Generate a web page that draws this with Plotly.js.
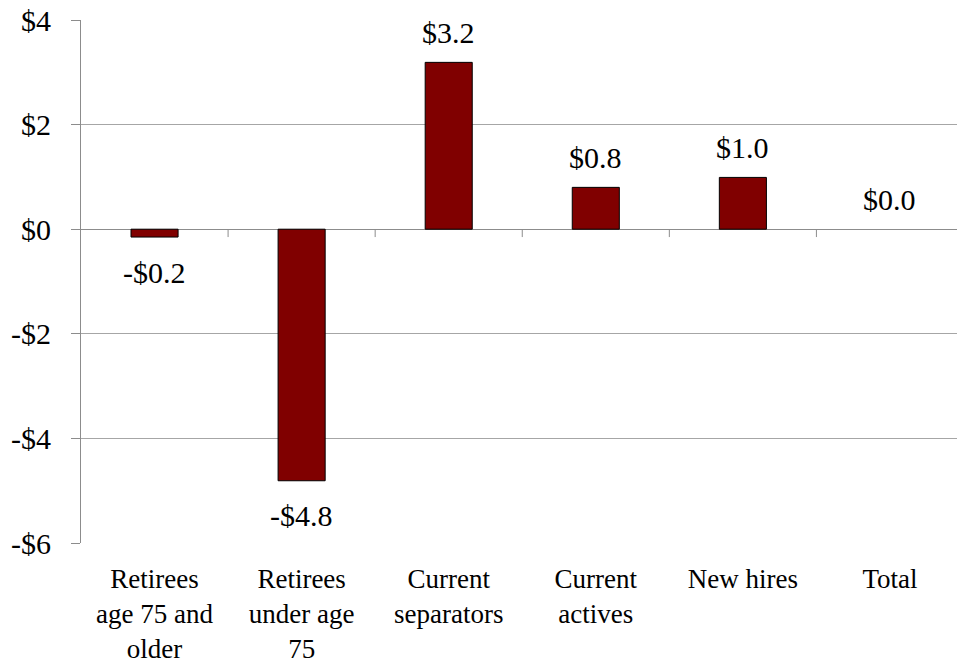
<!DOCTYPE html>
<html>
<head>
<meta charset="utf-8">
<script src="https://cdn.plot.ly/plotly-3.0.1.min.js"></script>
<style>
  body { margin: 0; overflow: hidden; background: #fff; }
  #chart { width: 964px; height: 667px; }
</style>
</head>
<body>
<div id="chart"></div>
<script>
// categories and values (billions of dollars)
var groups = ["Retirees<br>age 75 and<br>older", "Retirees<br>under age<br>75", "Current<br>separators", "Current<br>actives", "New hires", "Total"];
var change = [-0.15, -4.81, 3.19, 0.8, 0.99, 0.0];
var labels = ["-$0.2", "-$4.8", "$3.2", "$0.8", "$1.0", "$0.0"];
var yTicks = [4, 2, 0, -2, -4, -6];
var yTickText = ["$4", "$2", "$0", "-$2", "-$4", "-$6"];

var serif = "Liberation Serif";

var trace1 = {
    x: groups,
    y: change,
    type: "bar",
    marker: {
        color: "#800000",
        line: { color: "#000000", width: change.map(v => v == 0 ? 0 : 1) }
    },
    hoverinfo: "skip"
};

// value labels above positive bars, below negative ones
var notes = groups.map(function (g, i) {
    var neg = change[i] < 0;
    return {
        x: g, y: change[i], xref: "x", yref: "y",
        text: labels[i], showarrow: false,
        yanchor: "middle",
        yshift: neg ? -35 : 30,
        font: { family: serif, size: 30, color: "#000" }
    };
});

// small tick marks hanging under the zero line between categories
var tickShapes = [];
for (var i = 0; i < groups.length; i++) {
    tickShapes.push({
        type: "line", xref: "x", yref: "y",
        x0: i + 0.5, x1: i + 0.5, y0: 0, y1: -0.15,
        line: { color: "#8c8c8c", width: 1 }
    });
}

var layout = {
    width: 964,
    height: 667,
    margin: { l: 81, r: 0, t: 20, b: 124 },
    paper_bgcolor: "#ffffff",
    plot_bgcolor: "#ffffff",
    showlegend: false,
    bargap: 0.68,
    font: { family: serif, size: 30, color: "#000" },
    xaxis: {
        type: "category",
        showgrid: false,
        showline: false,
        ticks: "",
        ticklabelstandoff: 17,
        tickfont: { family: serif, size: 27, color: "#000" },
        fixedrange: true
    },
    yaxis: {
        range: [-6, 4],
        tickvals: yTicks,
        ticktext: yTickText,
        showgrid: true,
        gridcolor: "#a6a6a6",
        gridwidth: 1,
        zeroline: true,
        zerolinecolor: "#8c8c8c",
        zerolinewidth: 1,
        showline: true,
        linecolor: "#8c8c8c",
        linewidth: 1,
        ticks: "outside",
        ticklen: 9,
        tickcolor: "#8c8c8c",
        ticklabelstandoff: 14,
        tickfont: { family: serif, size: 30, color: "#000" },
        fixedrange: true
    },
    annotations: notes,
    shapes: tickShapes
};

Plotly.newPlot("chart", [trace1], layout, { displayModeBar: false, staticPlot: true });
</script>
</body>
</html>
